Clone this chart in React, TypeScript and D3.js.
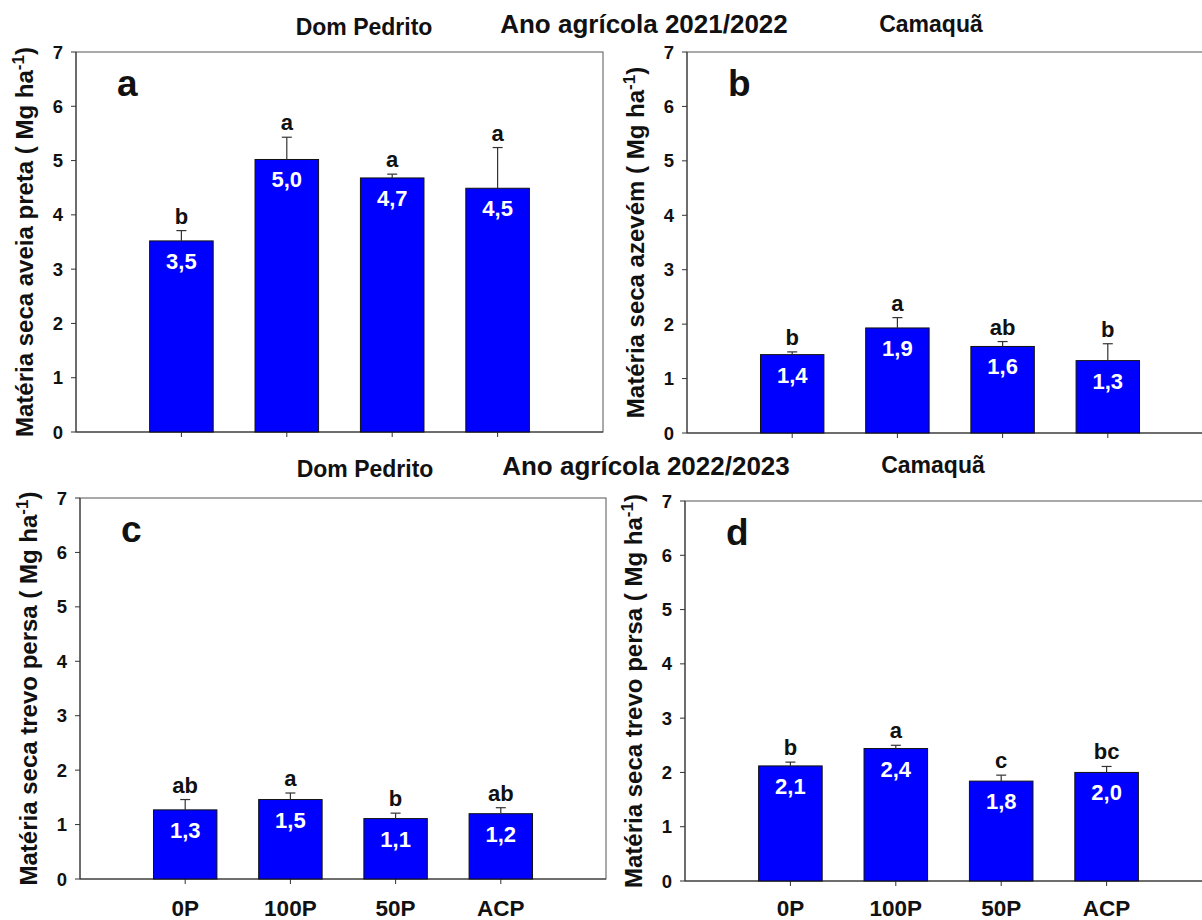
import React from "react";
import * as d3 from "d3";

const categories = ["0P", "100P", "50P", "ACP"];
const yTicks = [0, 1, 2, 3, 4, 5, 6, 7];

const aveiaValues = [3.52, 5.02, 4.68, 4.49];
const aveiaErrors = [0.19, 0.41, 0.07, 0.75];
const aveiaLetters = ["b", "a", "a", "a"];

const azevemValues = [1.44, 1.93, 1.59, 1.33];
const azevemErrors = [0.05, 0.19, 0.09, 0.31];
const azevemLetters = ["b", "a", "ab", "b"];

const trevoDPValues = [1.27, 1.46, 1.11, 1.2];
const trevoDPErrors = [0.19, 0.12, 0.1, 0.11];
const trevoDPLetters = ["ab", "a", "b", "ab"];

const trevoCQValues = [2.12, 2.44, 1.84, 2.0];
const trevoCQErrors = [0.07, 0.06, 0.11, 0.11];
const trevoCQLetters = ["b", "a", "c", "bc"];

const FONT = "'Liberation Sans', Arial, Helvetica, sans-serif";

type PanelProps = {
  left: number;
  right: number;
  top: number;
  bottom: number;
  values: number[];
  errors: number[];
  letters: string[];
  panelLabel: string;
  yTitle: string;
  showXLabels: boolean;
};

function Panel(p: PanelProps) {
  const x = d3.scaleLinear().domain([0, 5]).range([p.left, p.right]);
  const y = d3.scaleLinear().domain([0, 7]).range([p.bottom, p.top]);
  const step = x(1) - x(0);
  const bw = step * 0.603;
  const axisColor = "#333";
  const fmt = (v: number) => v.toFixed(1).replace(".", ",");
  const cy = (p.top + p.bottom) / 2;
  return (
    <g fontFamily={FONT} fontWeight="bold">
      <rect
        x={p.left}
        y={p.top}
        width={p.right - p.left}
        height={p.bottom - p.top}
        fill="none"
        stroke="#555"
        strokeWidth={1}
      />
      <line x1={p.left} x2={p.left} y1={p.top} y2={p.bottom} stroke={axisColor} />
      <line x1={p.left} x2={p.right} y1={p.bottom} y2={p.bottom} stroke={axisColor} />
      {yTicks.map((t) => (
        <g key={t}>
          <line x1={p.left - 5} x2={p.left} y1={y(t)} y2={y(t)} stroke={axisColor} />
          <text x={p.left - 13} y={y(t) + 6.5} textAnchor="end" fontSize={18.5} fill="#111">
            {t}
          </text>
        </g>
      ))}
      {categories.map((c, i) => (
        <g key={c}>
          <line x1={x(i + 1)} x2={x(i + 1)} y1={p.bottom} y2={p.bottom + 5} stroke={axisColor} />
          {p.showXLabels && (
            <text x={x(i + 1)} y={916} textAnchor="middle" fontSize={22.5} fill="#111">
              {c}
            </text>
          )}
        </g>
      ))}
      {p.values.map((v, i) => {
        const cx = x(i + 1);
        const yt = y(v);
        const ye = y(v + p.errors[i]);
        return (
          <g key={i}>
            <rect x={cx - bw / 2} y={yt} width={bw} height={p.bottom - yt} fill="#0000FF" stroke="#111" strokeWidth={1} />
            <line x1={cx} x2={cx} y1={yt} y2={ye} stroke="#333" strokeWidth={1.2} />
            <line x1={cx - 5} x2={cx + 5} y1={ye} y2={ye} stroke="#333" strokeWidth={1.2} />
            <text x={cx} y={ye - 7} textAnchor="middle" fontSize={22} fill="#111">
              {p.letters[i]}
            </text>
            <text x={cx} y={yt + 28} textAnchor="middle" fontSize={22} fill="#fff">
              {fmt(v)}
            </text>
          </g>
        );
      })}
      <text x={p.left + 41} y={p.top + 44} fontSize={37} fill="#111">
        {p.panelLabel}
      </text>
      <text
        transform={`translate(${p.left - 43},${cy}) rotate(-90)`}
        textAnchor="middle"
        fontSize={24}
        fill="#111"
      >
        {p.yTitle} ( Mg ha
        <tspan dy={-9} fontSize={17}>-1</tspan>
        <tspan dy={9}>)</tspan>
      </text>
    </g>
  );
}

export default function App() {
  return (
    <svg
      width={1202}
      height={920}
      style={{ position: "absolute", left: 0, top: 0, background: "#fff" }}
    >
      <rect x={0} y={0} width={1202} height={920} fill="#fff" />
      <g fontFamily={FONT} fontWeight="bold" fill="#111">
        <text x={364} y={35} textAnchor="middle" fontSize={23}>Dom Pedrito</text>
        <text x={644} y={33} textAnchor="middle" fontSize={26}>Ano agrícola 2021/2022</text>
        <text x={931} y={32} textAnchor="middle" fontSize={23}>Camaquã</text>
        <text x={365} y={477} textAnchor="middle" fontSize={23}>Dom Pedrito</text>
        <text x={646} y={475} textAnchor="middle" fontSize={26}>Ano agrícola 2022/2023</text>
        <text x={933} y={473} textAnchor="middle" fontSize={23}>Camaquã</text>
      </g>
      <Panel left={76} right={603} top={52} bottom={432} values={aveiaValues} errors={aveiaErrors} letters={aveiaLetters} panelLabel="a" yTitle="Matéria seca aveia preta" showXLabels={false} />
      <Panel left={687} right={1213} top={52} bottom={433} values={azevemValues} errors={azevemErrors} letters={azevemLetters} panelLabel="b" yTitle="Matéria seca azevém" showXLabels={false} />
      <Panel left={80} right={606} top={498} bottom={879} values={trevoDPValues} errors={trevoDPErrors} letters={trevoDPLetters} panelLabel="c" yTitle="Matéria seca trevo persa" showXLabels={true} />
      <Panel left={685} right={1212} top={501} bottom={881} values={trevoCQValues} errors={trevoCQErrors} letters={trevoCQLetters} panelLabel="d" yTitle="Matéria seca trevo persa" showXLabels={true} />
    </svg>
  );
}
